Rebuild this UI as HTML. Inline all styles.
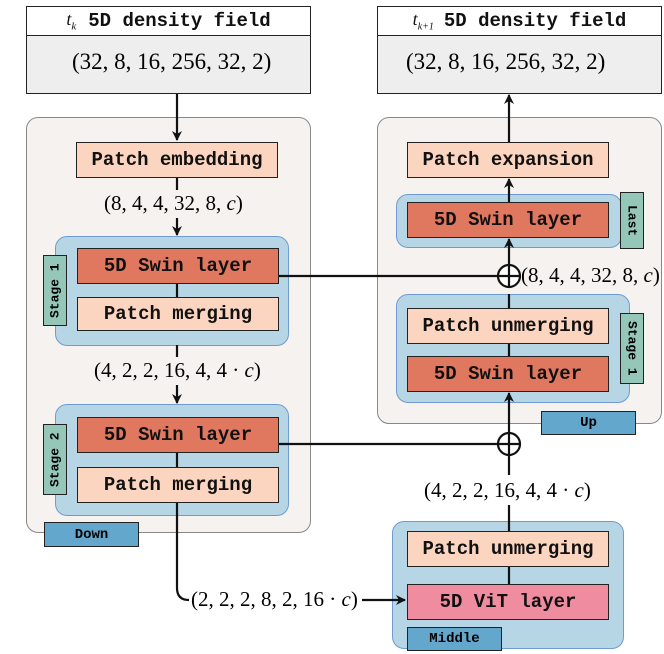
<!DOCTYPE html>
<html><head><style>
body{margin:0;width:664px;height:654px;background:#fff;position:relative;font-family:"Liberation Mono",monospace;overflow:hidden}
.a{position:absolute;box-sizing:border-box}
.b{border:1.5px solid #222;display:flex;align-items:center;justify-content:center;font-weight:bold;font-size:19px;color:#111}
.pe{background:#fcd5c0}.sw{background:#e07860}.vit{background:#f08ca0}
.ct{background:#f6f2ef;border:1.5px solid #888;border-radius:12px}
.bl{background:#b6d6e6;border:1.5px solid #6f9bd0;border-radius:12px}
.tag{background:#95c7b8;border:1.5px solid #222;font-weight:bold;font-size:13px;display:flex;align-items:center;justify-content:center}
.v{writing-mode:vertical-rl}
.lab{background:#63a7cc;border:1.5px solid #222;font-weight:bold;font-size:14px;display:flex;align-items:center;justify-content:center}
.m{font-family:"Liberation Serif",serif;font-size:21px;position:absolute;white-space:nowrap}
</style></head><body>
<div class="a b" style="left:26px;top:6px;width:285px;height:30px;background:#fff;font-size:19px"><i style="font-family:'Liberation Serif',serif;font-weight:normal;font-size:18px;margin-right:12px">t<sub style="font-size:11px">k</sub></i>5D density field</div>
<div class="a" style="left:26px;top:35px;width:285px;height:59px;background:#eee;border:1.5px solid #222"></div>
<div class="m" style="left:72px;top:49px;font-size:23px">(32, 8, 16, 256, 32, 2)</div>
<div class="a b" style="left:377px;top:6px;width:285px;height:30px;background:#fff"><i style="font-family:'Liberation Serif',serif;font-weight:normal;font-size:18px;margin-right:10px">t<sub style="font-size:10px">k+1</sub></i>5D density field</div>
<div class="a" style="left:377px;top:35px;width:285px;height:59px;background:#eee;border:1.5px solid #222"></div>
<div class="m" style="left:406px;top:49px;font-size:23px">(32, 8, 16, 256, 32, 2)</div>

<div class="a ct" style="left:26px;top:117px;width:285px;height:416px"></div>
<div class="a ct" style="left:377px;top:117px;width:285px;height:307px"></div>

<div class="a bl" style="left:55px;top:236px;width:234px;height:110px"></div>
<div class="a bl" style="left:55px;top:404px;width:234px;height:112px"></div>
<div class="a bl" style="left:392px;top:521px;width:232px;height:128px"></div>
<div class="a bl" style="left:396px;top:294px;width:234px;height:109px"></div>
<div class="a bl" style="left:396px;top:194px;width:226px;height:54px"></div>

<svg class="a" style="left:0;top:0" width="664" height="654">
<defs><marker id="ar" markerWidth="10" markerHeight="10" refX="9" refY="5" orient="auto" markerUnits="userSpaceOnUse"><path d="M0,0 L10,5 L0,10 L3,5z" fill="#111"/></marker></defs>
<g stroke="#111" stroke-width="2.2" fill="none">
<line x1="177" y1="94" x2="177" y2="140" marker-end="url(#ar)"/>
<line x1="177" y1="177" x2="177" y2="190"/>
<line x1="177" y1="218" x2="177" y2="235" marker-end="url(#ar)"/>
<line x1="177" y1="345" x2="177" y2="357"/>
<line x1="177" y1="385" x2="177" y2="403" marker-end="url(#ar)"/>
<line x1="177" y1="502" x2="177" y2="588"/>
<path d="M177,588 Q177,600 189,600"/>
<line x1="362" y1="600" x2="405" y2="600" marker-end="url(#ar)"/>
<line x1="278" y1="276" x2="498" y2="276"/>
<line x1="278" y1="444" x2="498" y2="444"/>
<line x1="509" y1="531" x2="509" y2="505"/>
<line x1="509" y1="475" x2="509" y2="455"/>
<line x1="509" y1="433" x2="509" y2="393" marker-end="url(#ar)"/>
<line x1="509" y1="265" x2="509" y2="239" marker-end="url(#ar)"/>
<line x1="509" y1="142" x2="509" y2="95" marker-end="url(#ar)"/>
<line x1="509" y1="202" x2="509" y2="179" marker-end="url(#ar)"/>
<line x1="177" y1="283" x2="177" y2="297"/><line x1="177" y1="452" x2="177" y2="467"/>
<line x1="509" y1="566" x2="509" y2="584"/><line x1="509" y1="343" x2="509" y2="356"/>
<line x1="509" y1="294" x2="509" y2="308"/>
<circle cx="509" cy="276" r="11" fill="#fff"/><line x1="498" y1="276" x2="520" y2="276"/><line x1="509" y1="265" x2="509" y2="287"/>
<circle cx="509" cy="444" r="11" fill="#fff"/><line x1="498" y1="444" x2="520" y2="444"/><line x1="509" y1="433" x2="509" y2="455"/>
</g>
</svg>

<div class="a b pe" style="left:76px;top:142px;width:202px;height:36px">Patch embedding</div>
<div class="m" style="left:104px;top:191px">(8, 4, 4, 32, 8, <i>c</i>)</div>
<div class="a b sw" style="left:77px;top:248px;width:202px;height:36px">5D Swin layer</div>
<div class="a b pe" style="left:77px;top:297px;width:202px;height:34px">Patch merging</div>
<div class="a tag v" style="left:43px;top:255px;width:24px;height:71px;transform:rotate(180deg)">Stage 1</div>
<div class="m" style="left:94px;top:358px">(4, 2, 2, 16, 4, 4 · <i>c</i>)</div>
<div class="a b sw" style="left:77px;top:417px;width:202px;height:36px">5D Swin layer</div>
<div class="a b pe" style="left:77px;top:467px;width:202px;height:36px">Patch merging</div>
<div class="a tag v" style="left:43px;top:424px;width:24px;height:71px;transform:rotate(180deg)">Stage 2</div>
<div class="a lab" style="left:44px;top:522px;width:95px;height:25px">Down</div>
<div class="m" style="left:191px;top:587px;background:#fff">(2, 2, 2, 8, 2, 16 · <i>c</i>)</div>

<div class="a b pe" style="left:407px;top:531px;width:202px;height:36px">Patch unmerging</div>
<div class="a b vit" style="left:407px;top:584px;width:202px;height:36px">5D ViT layer</div>
<div class="a lab" style="left:407px;top:627px;width:95px;height:24px">Middle</div>
<div class="m" style="left:424px;top:478px">(4, 2, 2, 16, 4, 4 · <i>c</i>)</div>

<div class="a b pe" style="left:407px;top:142px;width:202px;height:36px">Patch expansion</div>
<div class="a b sw" style="left:407px;top:202px;width:202px;height:36px">5D Swin layer</div>
<div class="a tag v" style="left:620px;top:192px;width:24px;height:57px">Last</div>
<div class="m" style="left:521px;top:263px">(8, 4, 4, 32, 8, <i>c</i>)</div>
<div class="a b pe" style="left:407px;top:308px;width:202px;height:36px">Patch unmerging</div>
<div class="a b sw" style="left:407px;top:356px;width:202px;height:36px">5D Swin layer</div>
<div class="a tag v" style="left:620px;top:313px;width:24px;height:71px">Stage 1</div>
<div class="a lab" style="left:541px;top:411px;width:95px;height:24px">Up</div>
</body></html>
